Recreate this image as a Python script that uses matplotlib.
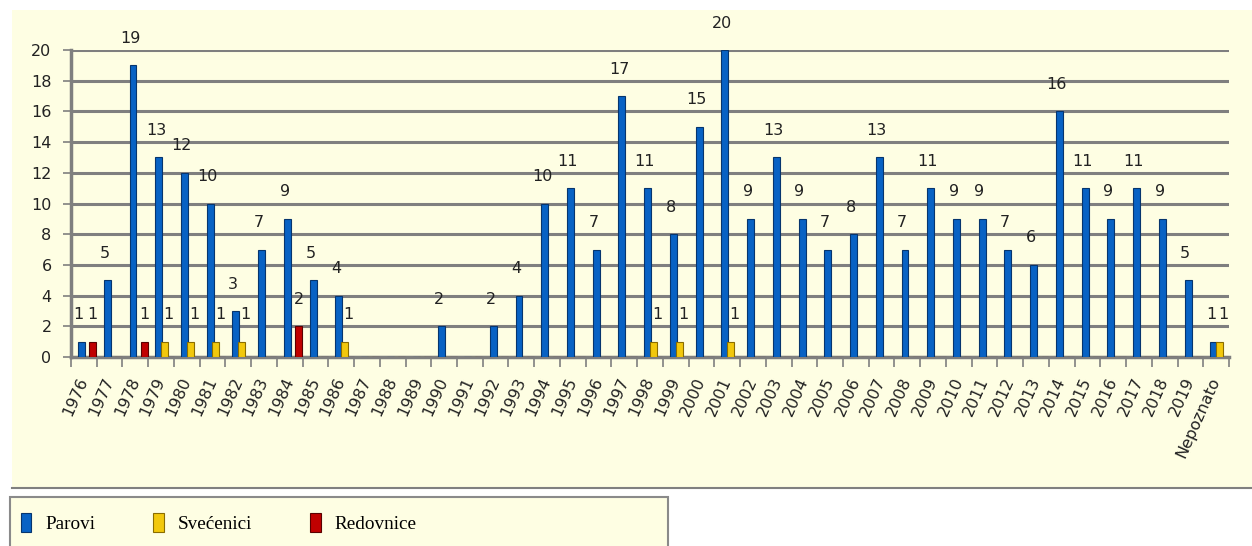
import matplotlib
matplotlib.use("Agg")
import matplotlib.pyplot as plt
from matplotlib.patches import Rectangle
import numpy as np

categories = [str(y) for y in range(1976, 2020)] + ["Nepoznato"]
parovi = [1, 5, 19, 13, 12, 10, 3, 7, 9, 5, 4, 0, 0, 0, 2, 0, 2, 4, 10, 11, 7, 17, 11, 8,
          15, 20, 9, 13, 9, 7, 8, 13, 7, 11, 9, 9, 7, 6, 16, 11, 9, 11, 9, 5, 1]
svecenici = [0, 0, 0, 1, 1, 1, 1, 0, 0, 0, 1, 0, 0, 0, 0, 0, 0, 0, 0, 0, 0, 0, 1, 1,
             0, 1, 0, 0, 0, 0, 0, 0, 0, 0, 0, 0, 0, 0, 0, 0, 0, 0, 0, 0, 1]
redovnice = [1, 0, 1, 0, 0, 0, 0, 0, 2, 0, 0, 0, 0, 0, 0, 0, 0, 0, 0, 0, 0, 0, 0, 0,
             0, 0, 0, 0, 0, 0, 0, 0, 0, 0, 0, 0, 0, 0, 0, 0, 0, 0, 0, 0, 0]
series_names = ["Parovi", "Svećenici", "Redovnice"]
yticks = list(range(0, 21, 2))

W, H = 1252, 546
fig = plt.figure(figsize=(W / 100, H / 100), dpi=100)
fig.patch.set_facecolor("white")
bg = "#FEFEE3"

# chart area background
fig.add_artist(Rectangle((12 / W, 1 - 488 / H), 1 - 12 / W, (488 - 10) / H,
                         transform=fig.transFigure, facecolor=bg,
                         edgecolor="none", zorder=-10))
fig.add_artist(plt.Line2D([12 / W, 1], [1 - 488 / H, 1 - 488 / H],
                          transform=fig.transFigure, color="#808080", lw=1.5,
                          zorder=-9))
# legend box
fig.add_artist(Rectangle((10 / W, -0.02), (668 - 10) / W, 0.02 + (546 - 497) / H,
                         transform=fig.transFigure, facecolor=bg,
                         edgecolor="#8a8a8a", lw=1.5, zorder=-8))

ax = fig.add_axes([71 / W, 1 - 357 / H, (1229 - 71) / W, (357 - 50) / H])
ax.set_facecolor("none")
ax.set_zorder(1)

x = np.arange(len(categories))
bw = 0.27
colors = ["#0862c4", "#f2c80c", "#c00000"]
edges = ["#06356e", "#8a6d00", "#5a0000"]
offsets = [-0.09, 0.13, 0.35]
label_dx = [-2, 3, 0]
zs = [3, 4, 3]
for vals, off, c, ec, z, dx in zip([parovi, svecenici, redovnice], offsets, colors,
                                    edges, zs, label_dx):
    vals = np.array(vals)
    ax.bar(x + off, vals, width=bw, color=c, edgecolor=ec, linewidth=0.8, zorder=z)
    for xi, v in zip(x + off, vals):
        if v > 0:
            ax.annotate(str(v), (xi, v), xytext=(dx, 14), textcoords="offset points",
                        ha="center", va="bottom", fontsize=11.5, color="#222222",
                        family="DejaVu Sans")

ax.set_xlim(-0.5, len(categories) - 0.5)
ax.set_ylim(0, 20)
ax.set_yticks(yticks)
ax.set_yticklabels([str(t) for t in yticks], fontsize=11.5, color="#222222")
ax.yaxis.grid(True, color="#7f7f7f", lw=2.2, zorder=1)
ax.set_axisbelow(True)
ax.tick_params(axis="y", length=6, width=1.2, color="#7f7f7f", pad=8)

ax.set_xticks(x)
ax.set_xticklabels(categories, rotation=66, ha="right", va="center",
                   rotation_mode="anchor", fontsize=11.5, color="#222222")
ax.tick_params(axis="x", which="major", length=0, pad=15)
ax.set_xticks(np.arange(-0.5, len(categories) + 0.5, 1), minor=True)
ax.tick_params(axis="x", which="minor", length=7, width=1.2, color="#7f7f7f")

for s in ["top", "right"]:
    ax.spines[s].set_visible(False)
ax.spines["left"].set_color("#7f7f7f")
ax.spines["left"].set_linewidth(2.5)
ax.spines["bottom"].set_color("#7f7f7f")
ax.spines["bottom"].set_linewidth(2.5)

# legend
handles = [Rectangle((0, 0), 1, 1, facecolor=c, edgecolor=ec, lw=0.8)
           for c, ec in zip(colors, edges)]
leg = fig.legend(handles, series_names, loc="center left",
                 bbox_to_anchor=(15 / W, 1 - 523 / H), ncol=3, frameon=False,
                 prop={"family": "Liberation Serif", "size": 13.8},
                 handlelength=0.55, handleheight=1.1, handletextpad=0.75,
                 columnspacing=3.0, borderpad=0.3, borderaxespad=0)

fig.savefig("out.png", dpi=100, facecolor="white")
